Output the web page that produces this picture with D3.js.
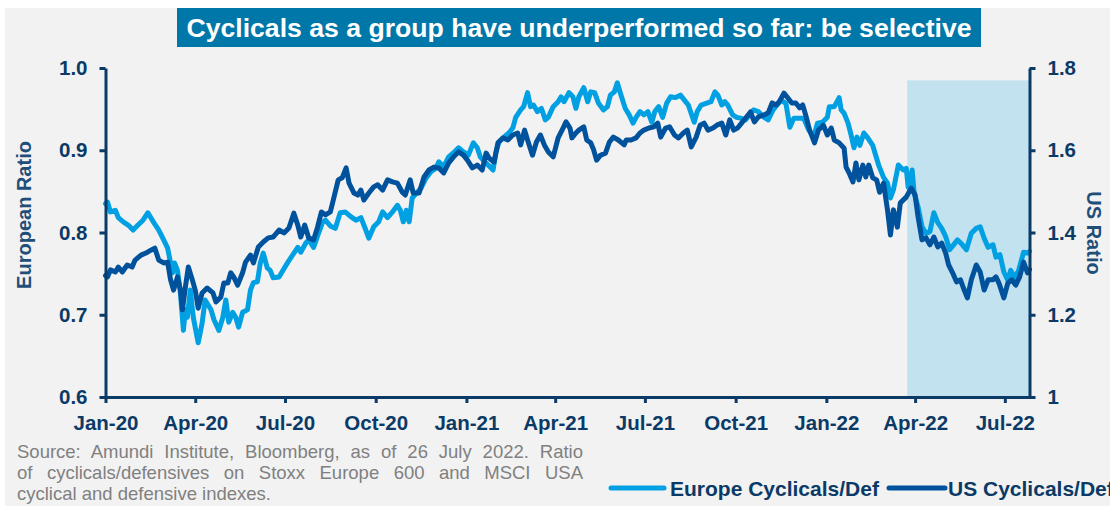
<!DOCTYPE html>
<html><head><meta charset="utf-8">
<script src="https://cdn.jsdelivr.net/npm/d3@7"></script>
<style>
html,body{margin:0;padding:0;background:#fff;}
svg{display:block;}
text{font-family:"Liberation Sans",Arial,sans-serif;}
</style></head><body>
<svg id="chart" width="1110" height="506"></svg>
<script>
const titleText = "Cyclicals as a group have underperformed so far: be selective";
const seriesNames = ["Europe Cyclicals/Def", "US Cyclicals/Def"];
const leftAxisTitle = "European Ratio";
const rightAxisTitle = "US Ratio";
const xTickDates = ["2020-01-01","2020-04-01","2020-07-01","2020-10-01","2021-01-01","2021-04-01","2021-07-01","2021-10-01","2022-01-01","2022-04-01","2022-07-01"];
const xTickLabels = ["Jan-20","Apr-20","Jul-20","Oct-20","Jan-21","Apr-21","Jul-21","Oct-21","Jan-22","Apr-22","Jul-22"];
const leftTicks = [0.6, 0.7, 0.8, 0.9, 1.0];
const leftTickLabels = ["0.6","0.7","0.8","0.9","1.0"];
const rightTicks = [1, 1.2, 1.4, 1.6, 1.8];
const rightTickLabels = ["1","1.2","1.4","1.6","1.8"];
const xDomain = ["2020-01-01", "2022-07-26"];
const shadeDates = ["2022-03-24", "2022-07-26"];
const shadeTop = 0.985;
const sourceLines = [
  "Source: Amundi Institute, Bloomberg, as of 26 July 2022. Ratio",
  "of cyclicals/defensives on Stoxx Europe 600 and MSCI USA",
  "cyclical and defensive indexes."
];

const eurDates = ["2020-01-01","2020-01-03","2020-01-06","2020-01-11","2020-01-14","2020-01-19","2020-01-24","2020-01-29","2020-02-03","2020-02-08","2020-02-13","2020-02-16","2020-02-19","2020-02-24","2020-02-29","2020-03-04","2020-03-07","2020-03-09","2020-03-11","2020-03-14","2020-03-17","2020-03-20","2020-03-22","2020-03-24","2020-03-27","2020-03-30","2020-04-04","2020-04-08","2020-04-11","2020-04-17","2020-04-20","2020-04-25","2020-04-29","2020-05-02","2020-05-05","2020-05-09","2020-05-12","2020-05-15","2020-05-19","2020-05-24","2020-05-27","2020-05-30","2020-06-03","2020-06-06","2020-06-09","2020-06-13","2020-06-16","2020-06-19","2020-06-25","2020-06-29","2020-07-04","2020-07-09","2020-07-14","2020-07-17","2020-07-22","2020-07-25","2020-07-30","2020-08-04","2020-08-08","2020-08-11","2020-08-16","2020-08-21","2020-08-26","2020-08-31","2020-09-06","2020-09-11","2020-09-16","2020-09-21","2020-09-24","2020-09-29","2020-10-04","2020-10-08","2020-10-13","2020-10-18","2020-10-23","2020-10-26","2020-10-29","2020-11-01","2020-11-04","2020-11-07","2020-11-10","2020-11-16","2020-11-21","2020-11-26","2020-12-01","2020-12-04","2020-12-09","2020-12-14","2020-12-19","2020-12-24","2020-12-29","2021-01-03","2021-01-08","2021-01-12","2021-01-15","2021-01-18","2021-01-23","2021-01-28","2021-01-31","2021-02-03","2021-02-08","2021-02-13","2021-02-17","2021-02-20","2021-02-25","2021-02-28","2021-03-04","2021-03-07","2021-03-10","2021-03-14","2021-03-18","2021-03-22","2021-03-25","2021-03-30","2021-04-04","2021-04-07","2021-04-10","2021-04-15","2021-04-19","2021-04-22","2021-04-25","2021-04-30","2021-05-04","2021-05-07","2021-05-11","2021-05-15","2021-05-20","2021-05-24","2021-05-27","2021-05-31","2021-06-03","2021-06-06","2021-06-11","2021-06-15","2021-06-19","2021-06-22","2021-06-26","2021-06-30","2021-07-04","2021-07-08","2021-07-11","2021-07-15","2021-07-19","2021-07-23","2021-07-27","2021-08-01","2021-08-06","2021-08-10","2021-08-14","2021-08-20","2021-08-23","2021-08-27","2021-09-01","2021-09-06","2021-09-10","2021-09-13","2021-09-17","2021-09-20","2021-09-23","2021-09-28","2021-10-02","2021-10-06","2021-10-11","2021-10-15","2021-10-19","2021-10-24","2021-10-30","2021-11-03","2021-11-08","2021-11-12","2021-11-16","2021-11-21","2021-11-25","2021-11-29","2021-12-04","2021-12-09","2021-12-14","2021-12-19","2021-12-23","2021-12-28","2022-01-02","2022-01-04","2022-01-09","2022-01-14","2022-01-16","2022-01-19","2022-01-23","2022-01-26","2022-01-29","2022-02-01","2022-02-04","2022-02-08","2022-02-12","2022-02-17","2022-02-20","2022-02-23","2022-02-28","2022-03-04","2022-03-07","2022-03-10","2022-03-15","2022-03-20","2022-03-23","2022-03-25","2022-03-29","2022-03-31","2022-04-04","2022-04-08","2022-04-12","2022-04-16","2022-04-20","2022-04-24","2022-04-28","2022-05-02","2022-05-06","2022-05-10","2022-05-14","2022-05-19","2022-05-23","2022-05-28","2022-06-02","2022-06-06","2022-06-10","2022-06-14","2022-06-19","2022-06-22","2022-06-26","2022-06-30","2022-07-04","2022-07-07","2022-07-11","2022-07-15","2022-07-20","2022-07-24","2022-07-26"];
const eurValues = [0.835,0.837,0.825,0.827,0.818,0.813,0.809,0.803,0.809,0.815,0.824,0.818,0.812,0.803,0.791,0.781,0.763,0.751,0.763,0.754,0.726,0.681,0.706,0.697,0.730,0.697,0.666,0.690,0.718,0.706,0.694,0.681,0.697,0.718,0.691,0.703,0.697,0.685,0.703,0.706,0.730,0.739,0.740,0.763,0.775,0.757,0.754,0.745,0.746,0.754,0.764,0.773,0.782,0.776,0.787,0.791,0.782,0.799,0.812,0.815,0.808,0.805,0.824,0.825,0.819,0.815,0.818,0.803,0.793,0.807,0.813,0.825,0.818,0.825,0.833,0.827,0.813,0.827,0.813,0.842,0.846,0.854,0.866,0.874,0.878,0.886,0.880,0.892,0.897,0.903,0.898,0.894,0.909,0.903,0.892,0.888,0.882,0.876,0.898,0.910,0.916,0.921,0.927,0.940,0.949,0.953,0.970,0.953,0.955,0.947,0.951,0.937,0.940,0.953,0.959,0.965,0.959,0.970,0.965,0.951,0.965,0.976,0.959,0.971,0.970,0.957,0.949,0.953,0.967,0.971,0.982,0.970,0.951,0.943,0.933,0.940,0.947,0.943,0.947,0.934,0.947,0.953,0.940,0.957,0.965,0.964,0.967,0.961,0.955,0.934,0.947,0.955,0.957,0.959,0.971,0.967,0.955,0.959,0.955,0.943,0.940,0.939,0.937,0.943,0.949,0.947,0.940,0.937,0.949,0.955,0.961,0.957,0.928,0.939,0.939,0.939,0.925,0.916,0.933,0.934,0.940,0.953,0.953,0.964,0.949,0.945,0.933,0.919,0.903,0.916,0.906,0.921,0.915,0.906,0.894,0.882,0.867,0.860,0.842,0.852,0.882,0.876,0.878,0.855,0.876,0.848,0.831,0.807,0.799,0.801,0.824,0.812,0.805,0.795,0.779,0.785,0.791,0.785,0.779,0.799,0.805,0.807,0.793,0.782,0.785,0.770,0.773,0.752,0.742,0.754,0.745,0.754,0.776,0.775,0.777];

const usDates = ["2020-01-01","2020-01-03","2020-01-06","2020-01-11","2020-01-14","2020-01-18","2020-01-23","2020-01-28","2020-01-31","2020-02-06","2020-02-11","2020-02-16","2020-02-20","2020-02-24","2020-02-29","2020-03-04","2020-03-07","2020-03-10","2020-03-14","2020-03-17","2020-03-19","2020-03-22","2020-03-25","2020-03-29","2020-04-01","2020-04-04","2020-04-08","2020-04-13","2020-04-19","2020-04-22","2020-04-27","2020-04-30","2020-05-04","2020-05-07","2020-05-10","2020-05-14","2020-05-19","2020-05-22","2020-05-27","2020-05-30","2020-06-04","2020-06-09","2020-06-14","2020-06-19","2020-06-25","2020-06-30","2020-07-05","2020-07-10","2020-07-14","2020-07-17","2020-07-21","2020-07-25","2020-07-30","2020-08-03","2020-08-07","2020-08-11","2020-08-16","2020-08-19","2020-08-24","2020-08-28","2020-09-01","2020-09-04","2020-09-09","2020-09-13","2020-09-16","2020-09-19","2020-09-24","2020-09-29","2020-10-03","2020-10-08","2020-10-13","2020-10-18","2020-10-23","2020-10-28","2020-10-31","2020-11-05","2020-11-08","2020-11-14","2020-11-19","2020-11-24","2020-11-29","2020-12-04","2020-12-09","2020-12-14","2020-12-19","2020-12-24","2020-12-29","2021-01-02","2021-01-07","2021-01-12","2021-01-17","2021-01-21","2021-01-24","2021-01-29","2021-02-02","2021-02-07","2021-02-12","2021-02-17","2021-02-22","2021-02-25","2021-03-01","2021-03-04","2021-03-09","2021-03-13","2021-03-17","2021-03-21","2021-03-25","2021-03-30","2021-04-04","2021-04-09","2021-04-12","2021-04-16","2021-04-18","2021-04-22","2021-04-25","2021-04-30","2021-05-03","2021-05-07","2021-05-10","2021-05-13","2021-05-17","2021-05-22","2021-05-26","2021-05-30","2021-06-04","2021-06-10","2021-06-12","2021-06-17","2021-06-22","2021-06-26","2021-06-30","2021-07-05","2021-07-10","2021-07-14","2021-07-17","2021-07-22","2021-07-26","2021-07-31","2021-08-04","2021-08-09","2021-08-13","2021-08-17","2021-08-22","2021-08-26","2021-08-30","2021-09-03","2021-09-08","2021-09-12","2021-09-17","2021-09-21","2021-09-25","2021-09-29","2021-10-03","2021-10-08","2021-10-12","2021-10-16","2021-10-20","2021-10-24","2021-10-30","2021-11-03","2021-11-07","2021-11-11","2021-11-14","2021-11-19","2021-11-23","2021-11-27","2021-12-01","2021-12-05","2021-12-08","2021-12-11","2021-12-15","2021-12-20","2021-12-24","2021-12-29","2022-01-02","2022-01-06","2022-01-09","2022-01-14","2022-01-19","2022-01-21","2022-01-24","2022-01-28","2022-01-31","2022-02-03","2022-02-07","2022-02-10","2022-02-13","2022-02-17","2022-02-21","2022-02-24","2022-02-28","2022-03-04","2022-03-07","2022-03-10","2022-03-14","2022-03-17","2022-03-23","2022-03-28","2022-04-01","2022-04-04","2022-04-08","2022-04-12","2022-04-16","2022-04-20","2022-04-24","2022-04-28","2022-05-02","2022-05-05","2022-05-09","2022-05-13","2022-05-17","2022-05-20","2022-05-24","2022-05-28","2022-06-02","2022-06-06","2022-06-10","2022-06-14","2022-06-19","2022-06-22","2022-06-25","2022-06-30","2022-07-04","2022-07-08","2022-07-12","2022-07-16","2022-07-20","2022-07-24","2022-07-26"];
const usValues = [1.295,1.292,1.309,1.304,1.316,1.304,1.321,1.316,1.333,1.345,1.350,1.357,1.362,1.333,1.326,1.328,1.285,1.260,1.292,1.260,1.212,1.267,1.316,1.285,1.260,1.216,1.253,1.265,1.253,1.231,1.243,1.277,1.277,1.302,1.292,1.272,1.302,1.328,1.345,1.326,1.365,1.377,1.387,1.389,1.406,1.399,1.411,1.447,1.418,1.389,1.418,1.387,1.382,1.413,1.450,1.443,1.450,1.479,1.528,1.533,1.557,1.520,1.496,1.491,1.503,1.479,1.496,1.511,1.516,1.503,1.528,1.523,1.520,1.498,1.491,1.528,1.496,1.496,1.535,1.552,1.559,1.557,1.545,1.569,1.584,1.596,1.588,1.576,1.557,1.564,1.552,1.593,1.581,1.571,1.618,1.630,1.625,1.637,1.642,1.613,1.649,1.625,1.588,1.620,1.637,1.613,1.596,1.584,1.630,1.654,1.669,1.654,1.630,1.642,1.649,1.657,1.625,1.618,1.601,1.576,1.588,1.593,1.620,1.632,1.625,1.613,1.625,1.625,1.630,1.642,1.649,1.654,1.657,1.666,1.632,1.654,1.657,1.637,1.630,1.642,1.649,1.608,1.632,1.661,1.666,1.649,1.654,1.661,1.666,1.637,1.674,1.649,1.654,1.669,1.681,1.693,1.669,1.681,1.686,1.691,1.715,1.710,1.717,1.739,1.727,1.715,1.715,1.703,1.710,1.686,1.649,1.618,1.649,1.661,1.637,1.654,1.625,1.618,1.605,1.559,1.545,1.523,1.569,1.528,1.564,1.535,1.564,1.533,1.528,1.498,1.520,1.455,1.394,1.455,1.413,1.472,1.486,1.508,1.491,1.438,1.382,1.387,1.370,1.389,1.365,1.374,1.350,1.321,1.302,1.280,1.285,1.265,1.241,1.285,1.321,1.304,1.260,1.285,1.285,1.292,1.277,1.241,1.277,1.285,1.272,1.292,1.328,1.302,1.310];

// ---------- styles ----------
const bg = "#f2f2f2";
const navy = "#0b3a66";
const titleNavy = "#1f4e79";
const eurColor = "#00a0e3";
const usColor = "#00529c";
const shadeColor = "#c3e2ef";
const titleBox = "#0077a9";

const parse = d3.utcParse("%Y-%m-%d");
const svg = d3.select("#chart");
const W = 1110, H = 506;
const plot = {left: 105.5, right: 1029.5, top: 68, bottom: 397};

svg.append("rect").attr("x", 5).attr("y", 8).attr("width", W - 5).attr("height", H - 8).attr("fill", bg);

// title
svg.append("rect").attr("x", 177).attr("y", 8).attr("width", 804).attr("height", 39).attr("fill", titleBox);
svg.append("text").attr("x", 579).attr("y", 36.5).attr("text-anchor", "middle")
  .attr("fill", "#fff").attr("font-weight", "bold").attr("font-size", 26.5)
  .attr("textLength", 785).attr("lengthAdjust", "spacingAndGlyphs").text(titleText);

const x = d3.scaleUtc().domain(xDomain.map(parse)).range([plot.left, plot.right]);
const yL = d3.scaleLinear().domain([leftTicks[0], leftTicks[leftTicks.length - 1]]).range([plot.bottom, plot.top]);
const yR = d3.scaleLinear().domain([rightTicks[0], rightTicks[rightTicks.length - 1]]).range([plot.bottom, plot.top]);

// shade
svg.append("rect")
  .attr("x", x(parse(shadeDates[0]))).attr("y", yL(shadeTop))
  .attr("width", x(parse(shadeDates[1])) - x(parse(shadeDates[0])))
  .attr("height", plot.bottom - yL(shadeTop))
  .attr("fill", shadeColor);

// lines
const eurData = eurDates.map((d, i) => ({date: parse(d), v: eurValues[i]}));
const usData = usDates.map((d, i) => ({date: parse(d), v: usValues[i]}));
svg.append("path").datum(eurData)
  .attr("d", d3.line().x(d => x(d.date)).y(d => yL(d.v)))
  .attr("fill", "none").attr("stroke", eurColor).attr("stroke-width", 5)
  .attr("stroke-linejoin", "round").attr("stroke-linecap", "round");
svg.append("path").datum(usData)
  .attr("d", d3.line().x(d => x(d.date)).y(d => yR(d.v)))
  .attr("fill", "none").attr("stroke", usColor).attr("stroke-width", 5)
  .attr("stroke-linejoin", "round").attr("stroke-linecap", "round");

// axes
function styleAxis(g) {
  g.select(".domain").attr("stroke", navy).attr("stroke-width", 3);
  g.selectAll(".tick line").attr("stroke", navy).attr("stroke-width", 3);
  g.selectAll(".tick text").attr("fill", navy).attr("font-size", 20.5).attr("font-weight", "bold")
    .attr("font-family", '"Liberation Sans", Arial, sans-serif');
}
svg.append("g").attr("transform", `translate(${plot.left},0)`)
  .call(d3.axisLeft(yL).tickValues(leftTicks).tickFormat((d, i) => leftTickLabels[i]).tickSize(6).tickSizeOuter(0).tickPadding(12))
  .call(styleAxis);
svg.append("g").attr("transform", `translate(${plot.right},0)`)
  .call(d3.axisRight(yR).tickValues(rightTicks).tickFormat((d, i) => rightTickLabels[i]).tickSize(6).tickSizeOuter(0).tickPadding(12))
  .call(styleAxis);
svg.append("g").attr("transform", `translate(0,${plot.bottom})`)
  .call(d3.axisBottom(x).tickValues(xTickDates.map(parse)).tickFormat((d, i) => xTickLabels[i]).tickSize(6).tickSizeOuter(0).tickPadding(12))
  .call(styleAxis);

// axis titles
svg.append("text").attr("transform", `translate(31,215) rotate(-90)`)
  .attr("text-anchor", "middle").attr("fill", titleNavy).attr("font-weight", "bold").attr("font-size", 20)
  .text(leftAxisTitle);
svg.append("text").attr("transform", `translate(1087,233) rotate(90)`)
  .attr("text-anchor", "middle").attr("fill", titleNavy).attr("font-weight", "bold").attr("font-size", 20)
  .text(rightAxisTitle);

// source (justified)
const srcWidth = 566, srcX = 17, srcY0 = 458, srcLH = 21;
sourceLines.forEach((ln, i) => {
  const t = svg.append("text").attr("x", srcX).attr("y", srcY0 + i * srcLH)
    .attr("fill", "#808080").attr("font-size", 18.5).text(ln);
  if (i < sourceLines.length - 1) {
    const natural = t.node().getComputedTextLength();
    const spaces = (ln.match(/ /g) || []).length;
    t.attr("word-spacing", Math.max(0, (srcWidth - natural) / spaces));
  }
});

// legend
const legendItems = [
  {name: seriesNames[0], color: eurColor, x1: 611, x2: 664, tx: 670},
  {name: seriesNames[1], color: usColor, x1: 889, x2: 945, tx: 948}
];
const legY = 488;
legendItems.forEach(it => {
  svg.append("line").attr("x1", it.x1).attr("x2", it.x2).attr("y1", legY).attr("y2", legY)
    .attr("stroke", it.color).attr("stroke-width", 5).attr("stroke-linecap", "round");
  svg.append("text").attr("x", it.tx).attr("y", legY + 7.5).attr("fill", navy)
    .attr("font-weight", "bold").attr("font-size", 21).text(it.name);
});
</script>
</body></html>
